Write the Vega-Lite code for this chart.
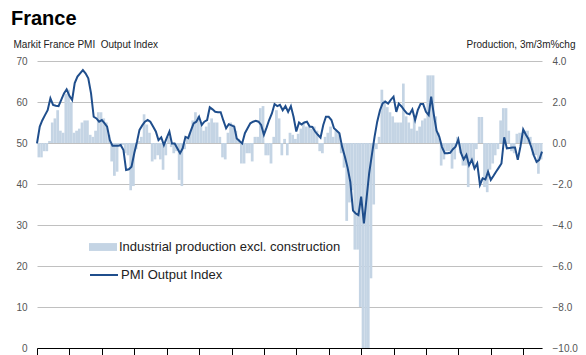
{
  "$schema": "https://vega.github.io/schema/vega-lite/v6.json",
  "width": 505,
  "height": 287,
  "autosize": {"type": "none"},
  "padding": {"left": 37, "top": 61, "right": 44, "bottom": 7},
  "background": "white",
  "config": {"view": {"stroke": null}, "font": "Liberation Sans"},
  "title": {"text": "France", "anchor": "start", "frame": "group", "dx": -26, "offset": 10, "fontSize": 20, "fontWeight": "bold", "font": "Liberation Sans", "color": "#000000"},
  "data": {"values": [
    {"d":"1999-01-01","ip":-0.7,"pmi":49.9},{"d":"1999-02-01","ip":-0.7,"pmi":54},{"d":"1999-03-01","ip":-0.4,"pmi":55.5},{"d":"1999-04-01","ip":-0.4,"pmi":56.8},{"d":"1999-05-01","ip":0.1,"pmi":58},{"d":"1999-06-01","ip":1.0,"pmi":60.9},{"d":"1999-07-01","ip":1.2,"pmi":59.3},{"d":"1999-08-01","ip":1.6,"pmi":59.1},{"d":"1999-09-01","ip":0.6,"pmi":59},{"d":"1999-10-01","ip":0.5,"pmi":60.5},{"d":"1999-11-01","ip":2.4,"pmi":62.1},{"d":"1999-12-01","ip":2.6,"pmi":63.1},
    {"d":"2000-01-01","ip":2.0,"pmi":61.5},{"d":"2000-02-01","ip":0.5,"pmi":60.5},{"d":"2000-03-01","ip":0.6,"pmi":64.6},{"d":"2000-04-01","ip":0.7,"pmi":66.2},{"d":"2000-05-01","ip":1.0,"pmi":67},{"d":"2000-06-01","ip":1.1,"pmi":67.8},{"d":"2000-07-01","ip":1.1,"pmi":67},{"d":"2000-08-01","ip":0.4,"pmi":65.8},{"d":"2000-09-01","ip":0.3,"pmi":62.1},{"d":"2000-10-01","ip":0.6,"pmi":56.4},{"d":"2000-11-01","ip":1.5,"pmi":56},{"d":"2000-12-01","ip":1.5,"pmi":55.2},
    {"d":"2001-01-01","ip":1.2,"pmi":55.6},{"d":"2001-02-01","ip":1.0,"pmi":54.8},{"d":"2001-03-01","ip":0.4,"pmi":54},{"d":"2001-04-01","ip":-0.9,"pmi":50.7},{"d":"2001-05-01","ip":-1.6,"pmi":49.3},{"d":"2001-06-01","ip":-1.4,"pmi":49.3},{"d":"2001-07-01","ip":-0.2,"pmi":49.3},{"d":"2001-08-01","ip":-0.1,"pmi":49.5},{"d":"2001-09-01","ip":-0.5,"pmi":48.3},{"d":"2001-10-01","ip":-0.6,"pmi":43.4},{"d":"2001-11-01","ip":-2.3,"pmi":43.6},{"d":"2001-12-01","ip":-2.1,"pmi":44.2},
    {"d":"2002-01-01","ip":-0.3,"pmi":47.5},{"d":"2002-02-01","ip":0.1,"pmi":50.3},{"d":"2002-03-01","ip":0.3,"pmi":53.2},{"d":"2002-04-01","ip":1.4,"pmi":54.3},{"d":"2002-05-01","ip":0.9,"pmi":55.2},{"d":"2002-06-01","ip":0.5,"pmi":55.6},{"d":"2002-07-01","ip":-0.9,"pmi":55.2},{"d":"2002-08-01","ip":-0.8,"pmi":54},{"d":"2002-09-01","ip":-0.6,"pmi":52.8},{"d":"2002-10-01","ip":-0.8,"pmi":50.7},{"d":"2002-11-01","ip":-1.3,"pmi":51.4},{"d":"2002-12-01","ip":-0.6,"pmi":49.5},
    {"d":"2003-01-01","ip":0.3,"pmi":51.2},{"d":"2003-02-01","ip":-0.2,"pmi":52.8},{"d":"2003-03-01","ip":-0.5,"pmi":49.9},{"d":"2003-04-01","ip":-0.4,"pmi":49.9},{"d":"2003-05-01","ip":-1.8,"pmi":48.7},{"d":"2003-06-01","ip":-2.1,"pmi":47.5},{"d":"2003-07-01","ip":-0.3,"pmi":48.7},{"d":"2003-08-01","ip":0.2,"pmi":51.5},{"d":"2003-09-01","ip":0.5,"pmi":51.2},{"d":"2003-10-01","ip":1.1,"pmi":53},{"d":"2003-11-01","ip":1.5,"pmi":54.8},{"d":"2003-12-01","ip":1.3,"pmi":55.2},
    {"d":"2004-01-01","ip":1.0,"pmi":56.4},{"d":"2004-02-01","ip":0.6,"pmi":54.4},{"d":"2004-03-01","ip":0.8,"pmi":55.2},{"d":"2004-04-01","ip":1.0,"pmi":55.6},{"d":"2004-05-01","ip":1.2,"pmi":58.7},{"d":"2004-06-01","ip":1.0,"pmi":58.2},{"d":"2004-07-01","ip":1.0,"pmi":57.6},{"d":"2004-08-01","ip":0.3,"pmi":57.5},{"d":"2004-09-01","ip":-0.7,"pmi":57.5},{"d":"2004-10-01","ip":-0.8,"pmi":55.5},{"d":"2004-11-01","ip":0.5,"pmi":53.6},{"d":"2004-12-01","ip":1.0,"pmi":54.6},
    {"d":"2005-01-01","ip":0.9,"pmi":54.3},{"d":"2005-02-01","ip":0.6,"pmi":54},{"d":"2005-03-01","ip":0.2,"pmi":51.1},{"d":"2005-04-01","ip":-1.0,"pmi":50.5},{"d":"2005-05-01","ip":-1.0,"pmi":49.9},{"d":"2005-06-01","ip":-0.5,"pmi":52.4},{"d":"2005-07-01","ip":-0.5,"pmi":53.6},{"d":"2005-08-01","ip":-0.9,"pmi":54.8},{"d":"2005-09-01","ip":0.3,"pmi":55.2},{"d":"2005-10-01","ip":0.3,"pmi":55.4},{"d":"2005-11-01","ip":1.7,"pmi":55.2},{"d":"2005-12-01","ip":1.8,"pmi":54.4},
    {"d":"2006-01-01","ip":-0.6,"pmi":52},{"d":"2006-02-01","ip":-0.6,"pmi":53.8},{"d":"2006-03-01","ip":-1.0,"pmi":55.6},{"d":"2006-04-01","ip":0.3,"pmi":57.2},{"d":"2006-05-01","ip":1.6,"pmi":59.5},{"d":"2006-06-01","ip":1.2,"pmi":59},{"d":"2006-07-01","ip":-0.6,"pmi":59.3},{"d":"2006-08-01","ip":0.2,"pmi":58},{"d":"2006-09-01","ip":-0.6,"pmi":59},{"d":"2006-10-01","ip":0.5,"pmi":57.6},{"d":"2006-11-01","ip":0.4,"pmi":59},{"d":"2006-12-01","ip":0.2,"pmi":56.4},
    {"d":"2007-01-01","ip":0.45,"pmi":52.8},{"d":"2007-02-01","ip":0.7,"pmi":55},{"d":"2007-03-01","ip":1.0,"pmi":54.5},{"d":"2007-04-01","ip":0.8,"pmi":55},{"d":"2007-05-01","ip":0.8,"pmi":55.2},{"d":"2007-06-01","ip":0.7,"pmi":54},{"d":"2007-07-01","ip":0.8,"pmi":53.9},{"d":"2007-08-01","ip":0.6,"pmi":52.8},{"d":"2007-09-01","ip":-0.4,"pmi":52},{"d":"2007-10-01","ip":-0.5,"pmi":51.3},{"d":"2007-11-01","ip":0.3,"pmi":54.4},{"d":"2007-12-01","ip":0.5,"pmi":56.4},
    {"d":"2008-01-01","ip":0.8,"pmi":56.4},{"d":"2008-02-01","ip":0.3,"pmi":55.6},{"d":"2008-03-01","ip":0.6,"pmi":53.6},{"d":"2008-04-01","ip":0.5,"pmi":53},{"d":"2008-05-01","ip":-0.5,"pmi":52.4},{"d":"2008-06-01","ip":-1.2,"pmi":49},{"d":"2008-07-01","ip":-3.8,"pmi":46.7},{"d":"2008-08-01","ip":-2.9,"pmi":44},{"d":"2008-09-01","ip":-2.3,"pmi":40.5},{"d":"2008-10-01","ip":-5.2,"pmi":33.5},{"d":"2008-11-01","ip":-5.2,"pmi":32.8},{"d":"2008-12-01","ip":-8.0,"pmi":32.4},
    {"d":"2009-01-01","ip":-10.0,"pmi":36.9},{"d":"2009-02-01","ip":-10.0,"pmi":30.4},{"d":"2009-03-01","ip":-10.0,"pmi":36.1},{"d":"2009-04-01","ip":-6.6,"pmi":42.6},{"d":"2009-05-01","ip":-3.0,"pmi":47},{"d":"2009-06-01","ip":-0.3,"pmi":51.5},{"d":"2009-07-01","ip":0.3,"pmi":55.2},{"d":"2009-08-01","ip":2.6,"pmi":58},{"d":"2009-09-01","ip":2.1,"pmi":59.7},{"d":"2009-10-01","ip":1.75,"pmi":60.1},{"d":"2009-11-01","ip":1.5,"pmi":59.6},{"d":"2009-12-01","ip":1.3,"pmi":60.5},
    {"d":"2010-01-01","ip":1.0,"pmi":61.3},{"d":"2010-02-01","ip":1.0,"pmi":57.6},{"d":"2010-03-01","ip":1.0,"pmi":59.6},{"d":"2010-04-01","ip":2.9,"pmi":58.9},{"d":"2010-05-01","ip":1.3,"pmi":58},{"d":"2010-06-01","ip":1.0,"pmi":57.2},{"d":"2010-07-01","ip":0.7,"pmi":57},{"d":"2010-08-01","ip":1.2,"pmi":58.2},{"d":"2010-09-01","ip":0.6,"pmi":55.6},{"d":"2010-10-01","ip":0.8,"pmi":58},{"d":"2010-11-01","ip":1.1,"pmi":59.5},{"d":"2010-12-01","ip":1.2,"pmi":59.5},
    {"d":"2011-01-01","ip":3.3,"pmi":57.6},{"d":"2011-02-01","ip":3.3,"pmi":56.8},{"d":"2011-03-01","ip":3.3,"pmi":61.3},{"d":"2011-04-01","ip":1.3,"pmi":56.8},{"d":"2011-05-01","ip":0.5,"pmi":53},{"d":"2011-06-01","ip":-1.1,"pmi":51.5},{"d":"2011-07-01","ip":-0.8,"pmi":49},{"d":"2011-08-01","ip":-0.4,"pmi":47.5},{"d":"2011-09-01","ip":-0.4,"pmi":47.5},{"d":"2011-10-01","ip":-1.25,"pmi":47.6},{"d":"2011-11-01","ip":-0.8,"pmi":48.5},{"d":"2011-12-01","ip":0.3,"pmi":49.1},
    {"d":"2012-01-01","ip":-0.5,"pmi":50.9},{"d":"2012-02-01","ip":-1.1,"pmi":47.5},{"d":"2012-03-01","ip":-1.1,"pmi":46},{"d":"2012-04-01","ip":-2.15,"pmi":47.1},{"d":"2012-05-01","ip":-0.9,"pmi":44.6},{"d":"2012-06-01","ip":-1.1,"pmi":45.9},{"d":"2012-07-01","ip":-0.3,"pmi":43.8},{"d":"2012-08-01","ip":1.27,"pmi":45},{"d":"2012-09-01","ip":1.27,"pmi":39.8},{"d":"2012-10-01","ip":-2.15,"pmi":41.4},{"d":"2012-11-01","ip":-2.4,"pmi":41.1},{"d":"2012-12-01","ip":-1.3,"pmi":43},
    {"d":"2013-01-01","ip":-1.0,"pmi":41},{"d":"2013-02-01","ip":-0.6,"pmi":42},{"d":"2013-03-01","ip":-0.3,"pmi":43},{"d":"2013-04-01","ip":1.1,"pmi":44},{"d":"2013-05-01","ip":1.7,"pmi":45},{"d":"2013-06-01","ip":1.7,"pmi":51.4},{"d":"2013-07-01","ip":0.6,"pmi":48.7},{"d":"2013-08-01","ip":-0.4,"pmi":48.8},{"d":"2013-09-01","ip":-0.5,"pmi":48.9},{"d":"2013-10-01","ip":0.45,"pmi":48.9},{"d":"2013-11-01","ip":0.5,"pmi":45.9},{"d":"2013-12-01","ip":0.5,"pmi":49.1},
    {"d":"2014-01-01","ip":0.6,"pmi":53.3},{"d":"2014-02-01","ip":0.6,"pmi":52},{"d":"2014-03-01","ip":0.3,"pmi":51},{"d":"2014-04-01","ip":-0.6,"pmi":49.1},{"d":"2014-05-01","ip":-0.6,"pmi":47},{"d":"2014-06-01","ip":-1.5,"pmi":45.4},{"d":"2014-07-01","ip":-0.8,"pmi":45.9},{"d":"2014-08-01","ip":null,"pmi":47.9}
  ]},
  "encoding": {
    "x": {
      "field": "d", "type": "temporal", "timeUnit": "utcyearmonth",
      "scale": {"domain": [{"year": 1999, "month": 1, "date": 1, "utc": true}, {"year": 2014, "month": 8, "date": 1, "utc": true}]},
      "axis": {"title": null, "labels": false, "grid": false, "ticks": true, "tickSize": 8, "tickColor": "#000000", "domainColor": "#000000", "domainWidth": 1, "tickCount": {"interval": "year", "step": 1}}
    }
  },
  "layer": [
    {
      "mark": {"type": "bar", "color": "#c4d4e4", "binSpacing": 0, "width": {"band": 1}},
      "encoding": {
        "y": {
          "field": "ip", "type": "quantitative",
          "scale": {"domain": [-10, 4], "nice": false, "zero": false},
          "axis": {"orient": "right", "values": [-10, -8, -6, -4, -2, 0, 2, 4], "format": ".1f", "grid": false, "ticks": false, "domain": false, "labelPadding": 10, "labelFontSize": 10, "labelColor": "#555555", "labelFont": "Liberation Sans",
            "title": "Production, 3m/3m%chg", "titleAngle": 0, "titleAlign": "right", "titleBaseline": "alphabetic", "titleX": 33, "titleY": -14, "titleFontSize": 10, "titleFontWeight": "normal", "titleColor": "#222222", "titleFont": "Liberation Sans"}
        },
        "fill": {
          "datum": "Industrial production excl. construction", "type": "nominal",
          "scale": {"range": ["#c4d4e4"]},
          "legend": {"orient": "none", "legendX": 52, "legendY": 172, "title": null, "padding": 0, "symbolType": "M-1,-0.28H1V0.28H-1Z", "symbolSize": 784, "symbolStrokeWidth": 0, "labelFontSize": 13, "labelColor": "#222222", "labelFont": "Liberation Sans", "labelOffset": 2, "labelLimit": 0}
        }
      }
    },
    {
      "mark": {"type": "line", "strokeWidth": 2},
      "encoding": {
        "y": {
          "field": "pmi", "type": "quantitative",
          "scale": {"domain": [0, 70], "nice": false},
          "axis": {"orient": "left", "values": [0, 10, 20, 30, 40, 50, 60, 70], "grid": true, "gridColor": "#c0c0c0", "gridWidth": 1, "ticks": false, "domain": false, "labelPadding": 10, "labelFontSize": 10, "labelColor": "#555555", "labelFont": "Liberation Sans",
            "title": "Markit France PMI\u00a0 Output Index", "titleAngle": 0, "titleAlign": "left", "titleBaseline": "alphabetic", "titleX": -24, "titleY": -14, "titleFontSize": 10, "titleFontWeight": "normal", "titleColor": "#222222", "titleFont": "Liberation Sans"}
        },
        "stroke": {
          "datum": "PMI Output Index", "type": "nominal",
          "scale": {"range": ["#1f4e8c"]},
          "legend": {"orient": "none", "legendX": 52, "legendY": 199, "title": null, "padding": 0, "symbolType": "stroke", "symbolSize": 784, "symbolStrokeWidth": 2, "labelFontSize": 13, "labelColor": "#222222", "labelFont": "Liberation Sans", "labelOffset": 2, "labelLimit": 0}
        }
      }
    }
  ],
  "resolve": {"scale": {"y": "independent", "fill": "independent", "stroke": "independent"}}
}
